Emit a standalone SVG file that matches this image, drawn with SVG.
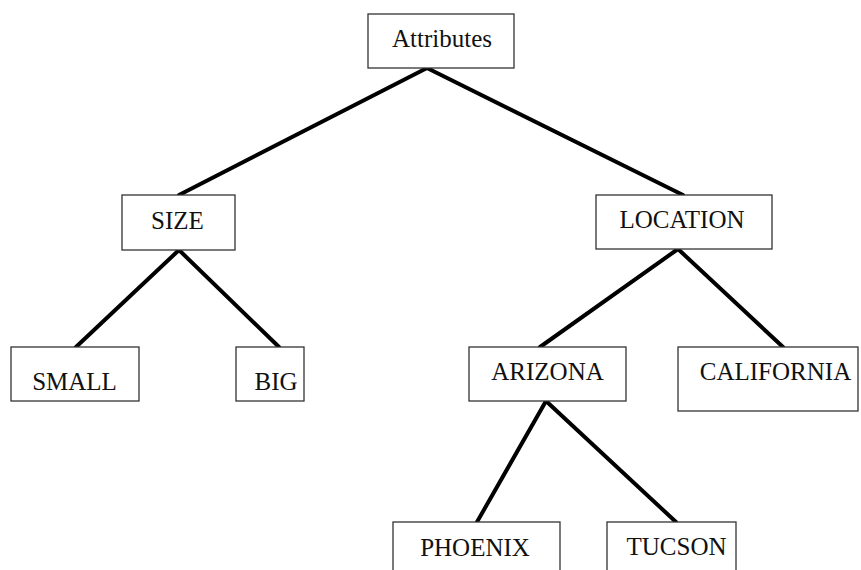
<svg xmlns="http://www.w3.org/2000/svg" width="861" height="570" viewBox="0 0 861 570">
<style>
.box{fill:#fff;stroke:#333;stroke-width:1.3}
.lbl{font-family:"Liberation Serif","Times New Roman",serif;font-size:25px;fill:#111;text-anchor:middle}
.edge{stroke:#000;stroke-width:4;stroke-linecap:round;fill:none}
</style>
<rect width="861" height="570" fill="#fff"/>
<g id="connectors">
<line class="edge" x1="427" y1="68" x2="179" y2="195"/>
<line class="edge" x1="427" y1="68" x2="683" y2="195"/>
<line class="edge" x1="179" y1="250" x2="76" y2="347"/>
<line class="edge" x1="179" y1="250" x2="279" y2="347"/>
<line class="edge" x1="678" y1="249" x2="540" y2="347"/>
<line class="edge" x1="678" y1="249" x2="783" y2="347"/>
<line class="edge" x1="546" y1="401" x2="477" y2="522"/>
<line class="edge" x1="546" y1="401" x2="676" y2="522"/>
</g>
<g id="attributes"><rect class="box" x="368" y="14" width="146" height="54"/><text class="lbl" x="442" y="47">Attributes</text></g>
<g id="size"><rect class="box" x="122" y="195" width="113" height="55"/><text class="lbl" x="177.5" y="229">SIZE</text></g>
<g id="location"><rect class="box" x="596" y="195" width="176" height="54"/><text class="lbl" x="682" y="228">LOCATION</text></g>
<g id="small"><rect class="box" x="11" y="347" width="128" height="54"/><text class="lbl" x="74.5" y="390">SMALL</text></g>
<g id="big"><rect class="box" x="236" y="347" width="68" height="54"/><text class="lbl" x="276" y="390">BIG</text></g>
<g id="arizona"><rect class="box" x="469" y="347" width="157" height="54"/><text class="lbl" x="547.5" y="380">ARIZONA</text></g>
<g id="california"><rect class="box" x="678" y="347" width="180" height="64"/><text class="lbl" x="775.5" y="380">CALIFORNIA</text></g>
<g id="phoenix"><rect class="box" x="393" y="522" width="167" height="60"/><text class="lbl" x="475" y="556">PHOENIX</text></g>
<g id="tucson"><rect class="box" x="607" y="522" width="129" height="60"/><text class="lbl" x="676.5" y="555">TUCSON</text></g>
</svg>
